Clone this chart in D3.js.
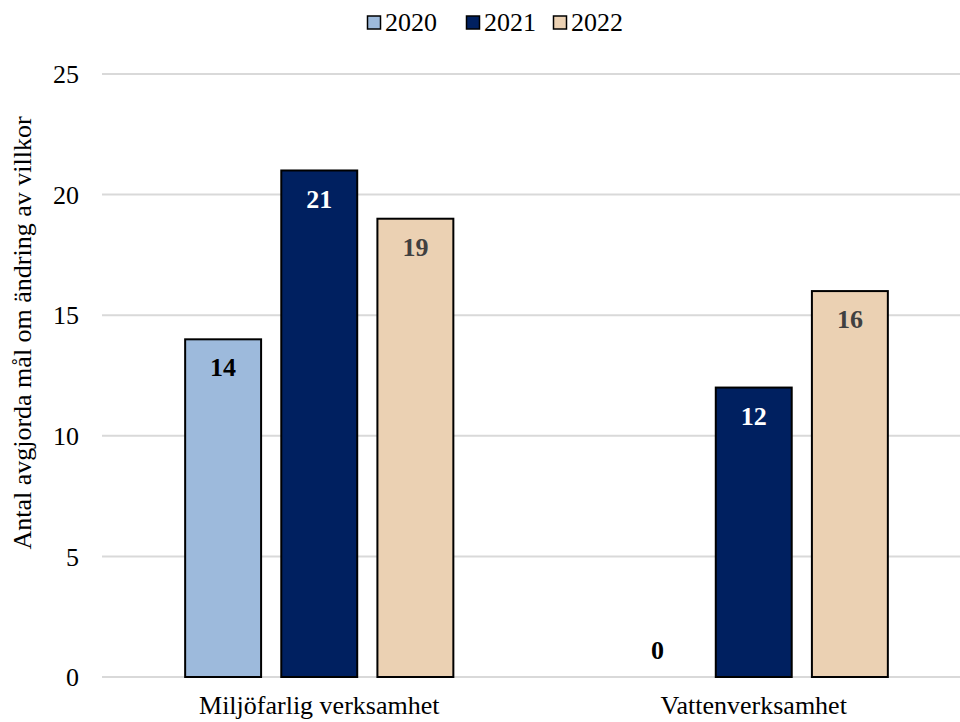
<!DOCTYPE html>
<html>
<head>
<meta charset="utf-8">
<script src="https://cdn.jsdelivr.net/npm/d3@7"></script>
<style>
  body { margin: 0; background: #fff; }
  svg text { font-family: "Liberation Serif", "Times New Roman", serif; }
</style>
</head>
<body>
<script>
// data
const categories = ["Miljöfarlig verksamhet", "Vattenverksamhet"];
const years = ["2020", "2021", "2022"];
const values2020 = [14, 0];
const values2021 = [21, 12];
const values2022 = [19, 16];
const yTicks = [0, 5, 10, 15, 20, 25];

const colors = ["#9dbadc", "#002060", "#ebd1b3"];
const labelColors = ["#000000", "#ffffff", "#404040"];

const width = 960, height = 722;
const fs = 26;

const svg = d3.select("body").append("svg")
    .attr("width", width)
    .attr("height", height);

const x = d3.scaleBand()
    .domain(categories)
    .range([102, 971]);

const xs = d3.scaleBand()
    .domain(years)
    .range([0, x.bandwidth()])
    .paddingInner(0.21)
    .paddingOuter(0.865);

const y = d3.scaleLinear()
    .domain([0, 25])
    .range([677, 74]);

// gridlines
svg.append("g")
    .selectAll("line")
    .data(yTicks)
    .join("line")
    .attr("x1", 102)
    .attr("x2", width)
    .attr("y1", d => y(d))
    .attr("y2", d => y(d))
    .attr("stroke", "#d9d9d9")
    .attr("stroke-width", 2);

// y tick labels
svg.append("g")
    .selectAll("text")
    .data(yTicks)
    .join("text")
    .attr("x", 79)
    .attr("y", d => y(d))
    .attr("dy", "0.35em")
    .attr("text-anchor", "end")
    .attr("font-size", fs)
    .text(d => d);

// y axis title
svg.append("text")
    .attr("transform", "translate(22,333) rotate(-90)")
    .attr("dy", "0.35em")
    .attr("text-anchor", "middle")
    .attr("font-size", fs)
    .text("Antal avgjorda mål om ändring av villkor");

const series = [values2020, values2021, values2022];
const rows = [];
categories.forEach((c, i) => {
    years.forEach((yr, j) => {
        rows.push({ cat: c, year: yr, j: j, value: series[j][i] });
    });
});

// bars
svg.append("g")
    .selectAll("rect")
    .data(rows.filter(d => d.value > 0))
    .join("rect")
    .attr("x", d => x(d.cat) + xs(d.year))
    .attr("y", d => y(d.value))
    .attr("width", xs.bandwidth())
    .attr("height", d => y(0) - y(d.value))
    .attr("fill", d => colors[d.j])
    .attr("stroke", "#000")
    .attr("stroke-width", 2);

// value labels
svg.append("g")
    .selectAll("text")
    .data(rows)
    .join("text")
    .attr("x", d => x(d.cat) + xs(d.year) + xs.bandwidth() / 2)
    .attr("y", d => d.value > 0 ? y(d.value) + 28 : y(0) - 27)
    .attr("dy", "0.35em")
    .attr("text-anchor", "middle")
    .attr("font-size", fs)
    .attr("font-weight", "bold")
    .attr("fill", d => d.value > 0 ? labelColors[d.j] : "#000")
    .text(d => d.value);

// category labels
svg.append("g")
    .selectAll("text")
    .data(categories)
    .join("text")
    .attr("x", d => x(d) + x.bandwidth() / 2)
    .attr("y", 714)
    .attr("text-anchor", "middle")
    .attr("font-size", fs)
    .text(d => d);

// legend
const legendX = [367, 466, 553];
const legend = svg.append("g")
    .selectAll("g")
    .data(years)
    .join("g")
    .attr("transform", (d, i) => "translate(" + legendX[i] + ",0)");

legend.append("rect")
    .attr("x", 0.5)
    .attr("y", 16)
    .attr("width", 13)
    .attr("height", 13)
    .attr("fill", (d, i) => colors[i])
    .attr("stroke", "#000")
    .attr("stroke-width", 1.5);

legend.append("text")
    .attr("x", 18)
    .attr("y", 22)
    .attr("dy", "0.35em")
    .attr("font-size", fs)
    .text(d => d);
</script>
</body>
</html>
